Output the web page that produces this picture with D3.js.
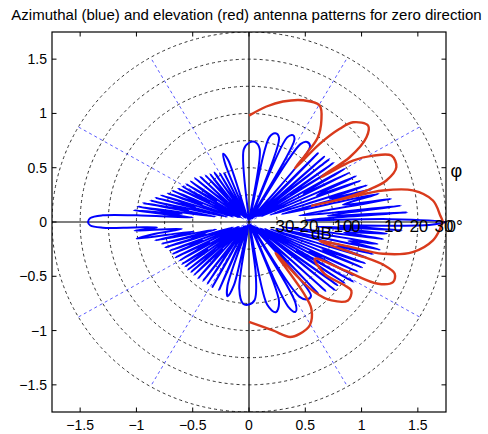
<!DOCTYPE html>
<html><head><meta charset="utf-8">
<script src="https://cdn.jsdelivr.net/npm/d3@7"></script>
<style>body{margin:0;background:#fff}svg{display:block}</style>
</head><body><svg id="c" width="488" height="434"></svg>
<script>
// ---------- data ----------
const titleText = "Azimuthal (blue) and elevation (red) antenna patterns for zero direction";
const xTicks = [-1.5, -1, -0.5, 0, 0.5, 1, 1.5];
const yTicks = [-1.5, -1, -0.5, 0, 0.5, 1, 1.5];
const ringRadii = [0.25, 0.5, 0.75, 1, 1.25, 1.5, 1.75];
const spokeAngles = [30, 60, 120, 150, 210, 240, 300, 330];
const spokeLength = 1.75;
const dbLabels = ["-30", "-20", "-10", "0", "10", "20", "30"];
const dbLabelPos = [0.185, 0.398, 0.700, 0.906, 1.200, 1.425, 1.648];
const dbUnit = "dB";
const angleLabel = "\u03c6";
const zeroLabel = "0\u00b0";

// azimuthal pattern (blue): [angle deg, radius]
const blueAzimuth = [
[0,1.75],[1.2,1.25],[2,0.5],[3.6,1.41],[4.8,0.7],[6.4,1.36],[7.6,0.45],[9.6,1.28],[10.8,0.85],[12.8,1.18],[14,0.3],[15.5,1.13],[16.7,0.75],[17.9,1.1],[19.2,0.2],[21,1.06],[22.3,0.65],[24,1.04],[25.4,0.12],[27,1.0],[28.4,0.55],[30,0.98],[31.5,0.1],[33,0.95],[34.5,0.45],[36,0.93],[37.5,0.08],[39,0.92],[40.5,0.35],[42,0.9],[43.8,0.06],[46,0.88],[48,0.04],
[52,0.88],[55,0.9],[57.5,0.85],[60,0.04],[62,0.86],[64,0.89],[66.5,0.85],[69,0.03],[71,0.82],[74,0.85],[77,0.8],[79.5,0.03],[82,0.68],[86,0.74],[90,0.73],[94,0.67],[97,0.03],
[105,0.02],[108,0.6],[110,0.67],[111.5,0.58],[113,0.03],
[116,0.5],[118,0.1],[120,0.52],[122,0.2],[124,0.55],[126,0.05],[128,0.56],[130,0.3],[132,0.58],[134,0.05],[136,0.6],[138,0.25],[140,0.63],[142,0.1],[144,0.64],[146,0.35],[148,0.66],[149.5,0.08],[151,0.68],[152.5,0.4],[154,0.7],[155.5,0.1],[157,0.74],[158.5,0.45],[160,0.77],[161.3,0.15],[162.5,0.82],[163.8,0.5],[165,0.86],[166.2,0.2],[167.3,0.9],[168.5,0.55],[169.5,0.96],[170.6,0.3],[171.8,1.0],[173,0.6],[174,1.03],[175.2,0.5],[176.5,1.0],[177.3,1.3],[178.5,1.41],[180,1.43],[181.3,1.41],[182.3,1.3],[182.8,1.02],[183.5,0.82],[184.5,1.02],[186,0.6],[187.5,0.85],[188.8,1.01],[190,0.5],[191.5,0.85],[193,0.3],[194.5,0.8],[196,0.4],[197.5,0.78],[199,0.15],[200.5,0.75],[202,0.45],[203.5,0.74],[205,0.1],[206.5,0.73],[208,0.4],[210,0.71],[211.5,0.1],[213,0.71],[214.5,0.45],[216,0.7],[217.5,0.08],[219,0.7],[220.5,0.4],[222,0.69],[223.5,0.05],[225,0.69],[227,0.35],[229,0.69],[231,0.05],[233,0.68],[235,0.3],[237,0.68],[239,0.04],[241.5,0.68],[244,0.03],[247,0.68],[250,0.03],[252,0.62],[254.5,0.71],[257,0.6],[259,0.03],[262,0.62],[266,0.755],[270,0.76],[274,0.72],[277,0.5],[279,0.03],
[282,0.78],[286,0.865],[290,0.78],[292.5,0.03],[294,0.85],[296.5,0.925],[299,0.85],[301,0.03],[303,0.82],[306,0.88],[309,0.875],[311,0.04],[313,0.9],[315,0.3],[317,0.93],[319,0.06],[320.5,0.99],[322,0.4],[323.5,0.98],[325,0.08],[326.5,1.02],[328,0.5],[329.3,1.08],[330.6,0.12],[332,1.05],[333.3,0.6],[334.6,1.07],[336,0.15],[337.3,1.09],[338.5,0.7],[339.8,1.1],[341,0.2],[342.5,1.1],[343.8,0.8],[345,1.14],[346.3,0.25],[347.6,1.19],[348.8,0.9],[350,1.16],[351.2,0.3],[352.5,1.2],[353.6,0.85],[355,1.23],[356,0.6],[356.8,1.36],[357.6,0.8],[358.4,1.2],[359,1.6]
];

// elevation pattern (red): [angle deg, radius]
const redElevation = [
[90,0.98],[81.7,1.075],[74.8,1.15],[66.8,1.22],[59.7,1.243],[55.5,1.135],[51.9,0.99],[51,0.81],[50.5,0.64],[48.9,0.955],[46.8,1.177],[44.8,1.303],[40,1.381],[36.8,1.303],[33.7,1.075],[33.3,0.86],[32.8,0.76],[31.5,1.083],[29,1.26],[25.8,1.405],[21.1,1.403],[17.4,1.279],[15.5,1.082],[14.5,0.83],[15,0.58],[14.2,0.9],[13.7,1.225],[11.3,1.485],[6.9,1.646],[2,1.70],[0,1.72],[-2,1.70],[-5.9,1.643],[-10.8,1.48],[-13.8,1.226],[-14.3,0.9],[-15.5,0.65],[-17.3,0.984],[-18.4,1.27],[-20.2,1.379],[-23.4,1.394],[-26.4,1.28],[-27.7,0.96],[-30.1,0.675],[-35.4,0.824],[-34.5,1.03],[-34.8,1.107],[-39.4,1.138],[-44.6,1.029],[-47.9,0.871],[-49.4,0.669],[-50.5,0.37],[-53.4,0.805],[-55.3,0.973],[-60.5,1.095],[-66.4,1.124],[-71,1.12],[-78,1.021],[-90,0.92]
];

// ---------- drawing ----------
const svg = d3.select("#c");
const L = 52, R = 446, T = 32, B = 412;
const x = d3.scaleLinear().domain([-1.75, 1.75]).range([L, R]);
const y = d3.scaleLinear().domain([-1.75, 1.75]).range([B, T]);
const font = "'Liberation Sans', Arial, Helvetica, sans-serif";
const rad = d => d * Math.PI / 180;
const px = p => x(p[1] * Math.cos(rad(p[0])));
const py = p => y(p[1] * Math.sin(rad(p[0])));

svg.append("defs").append("clipPath").attr("id", "clip")
  .append("rect").attr("x", L).attr("y", T).attr("width", R - L).attr("height", B - T);

svg.append("rect").attr("width", 488).attr("height", 434).attr("fill", "#fff");

const plot = svg.append("g").attr("clip-path", "url(#clip)");

// rings
plot.selectAll("ellipse.ring").data(ringRadii).join("ellipse")
  .attr("cx", x(0)).attr("cy", y(0))
  .attr("rx", r => x(r) - x(0)).attr("ry", r => y(0) - y(r))
  .attr("fill", "none").attr("stroke", "#333").attr("stroke-width", 1)
  .attr("stroke-dasharray", "3,3");

// spokes
plot.selectAll("line.spoke").data(spokeAngles).join("line")
  .attr("x1", x(0)).attr("y1", y(0))
  .attr("x2", a => px([a, spokeLength])).attr("y2", a => py([a, spokeLength]))
  .attr("stroke", "#5b5bff").attr("stroke-width", 1).attr("stroke-dasharray", "3,3");

// axes through origin
plot.append("line").attr("x1", x(0)).attr("x2", x(0)).attr("y1", T).attr("y2", B)
  .attr("stroke", "#000").attr("stroke-width", 1.2);
plot.append("line").attr("x1", L).attr("x2", R).attr("y1", y(0)).attr("y2", y(0))
  .attr("stroke", "#000").attr("stroke-width", 1.2);

// patterns
plot.append("path").datum(blueAzimuth)
  .attr("d", d3.line().x(px).y(py).curve(d3.curveCatmullRomClosed.alpha(0.5)))
  .attr("fill", "none").attr("stroke", "#0000ff").attr("stroke-width", 2)
  .attr("stroke-linejoin", "round");
plot.append("path").datum(redElevation)
  .attr("d", d3.line().x(px).y(py).curve(d3.curveCatmullRom.alpha(0.5)))
  .attr("fill", "none").attr("stroke", "#d93a1c").attr("stroke-width", 2.4)
  .attr("stroke-linejoin", "round");

// box
svg.append("rect").attr("x", L).attr("y", T).attr("width", R - L).attr("height", B - T)
  .attr("fill", "none").attr("stroke", "#000").attr("stroke-width", 1.2);

// ticks (inward on all sides)
const tl = 4.5;
xTicks.forEach(v => {
  svg.append("line").attr("x1", x(v)).attr("x2", x(v)).attr("y1", B).attr("y2", B - tl).attr("stroke", "#000");
  svg.append("line").attr("x1", x(v)).attr("x2", x(v)).attr("y1", T).attr("y2", T + tl).attr("stroke", "#000");
});
yTicks.forEach(v => {
  svg.append("line").attr("y1", y(v)).attr("y2", y(v)).attr("x1", L).attr("x2", L + tl).attr("stroke", "#000");
  svg.append("line").attr("y1", y(v)).attr("y2", y(v)).attr("x1", R).attr("x2", R - tl).attr("stroke", "#000");
});

// tick labels
svg.selectAll("text.xt").data(xTicks).join("text")
  .attr("x", v => x(v)).attr("y", 430).attr("text-anchor", "middle")
  .attr("font-family", font).attr("font-size", 14).attr("fill", "#000")
  .text(v => d3.format("")(v));
svg.selectAll("text.yt").data(yTicks).join("text")
  .attr("x", 47).attr("y", v => y(v) + 5).attr("text-anchor", "end")
  .attr("font-family", font).attr("font-size", 14).attr("fill", "#000")
  .text(v => d3.format("")(v));

// title
svg.append("text").attr("x", 246.5).attr("y", 20).attr("text-anchor", "middle")
  .attr("font-family", font).attr("font-size", 15).attr("fill", "#000").text(titleText);

// dB scale labels
svg.selectAll("text.db").data(dbLabels).join("text")
  .attr("x", (d, i) => x(dbLabelPos[i])).attr("y", y(-0.095))
  .attr("font-family", font).attr("font-size", 17).attr("fill", "#000")
  .text(d => d);
svg.append("text").attr("x", x(0.551)).attr("y", y(-0.152))
  .attr("font-family", font).attr("font-size", 17).attr("fill", "#000").text(dbUnit);
svg.append("text").attr("x", x(1.755)).attr("y", y(-0.095))
  .attr("font-family", font).attr("font-size", 17).attr("fill", "#000").text(zeroLabel);
svg.append("text").attr("x", x(1.79)).attr("y", y(0.41))
  .attr("font-family", font).attr("font-size", 18).attr("fill", "#000").text(angleLabel);
</script></body></html>
